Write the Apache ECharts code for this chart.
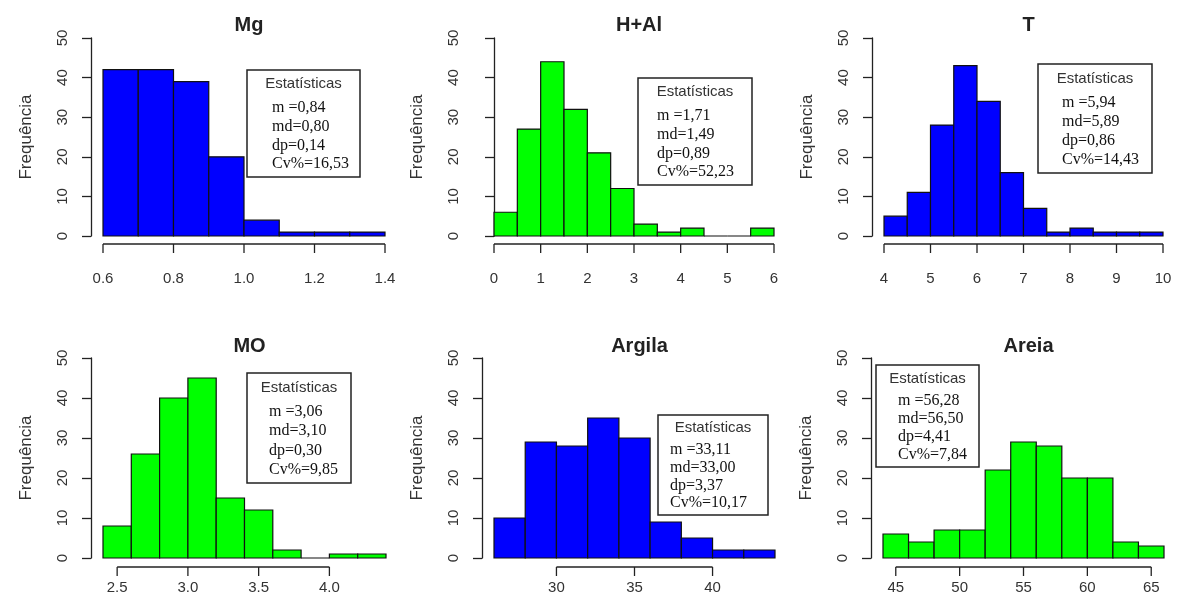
<!DOCTYPE html>
<html><head><meta charset="utf-8">
<script src="https://cdn.jsdelivr.net/npm/echarts@6/dist/echarts.min.js"></script>
<style>html,body{margin:0;padding:0;background:#fff}#c{width:1187px;height:609px}</style>
</head><body><div id="c"></div>
<script>
// ---------------- DATA ----------------
const titles = ['Mg', 'H+Al', 'T', 'MO', 'Argila', 'Areia'];

const mgBreaks  = [0.6, 0.7, 0.8, 0.9, 1.0, 1.1, 1.2, 1.3, 1.4];
const mgCounts  = [42, 42, 39, 20, 4, 1, 1, 1];
const haBreaks  = [0, 0.5, 1, 1.5, 2, 2.5, 3, 3.5, 4, 4.5, 5, 5.5, 6];
const haCounts  = [6, 27, 44, 32, 21, 12, 3, 1, 2, 0, 0, 2];
const tBreaks   = [4, 4.5, 5, 5.5, 6, 6.5, 7, 7.5, 8, 8.5, 9, 9.5, 10];
const tCounts   = [5, 11, 28, 43, 34, 16, 7, 1, 2, 1, 1, 1];
const moBreaks  = [2.4, 2.6, 2.8, 3.0, 3.2, 3.4, 3.6, 3.8, 4.0, 4.2, 4.4];
const moCounts  = [8, 26, 40, 45, 15, 12, 2, 0, 1, 1];
const argBreaks = [26, 28, 30, 32, 34, 36, 38, 40, 42, 44];
const argCounts = [10, 29, 28, 35, 30, 9, 5, 2, 2];
const areBreaks = [44, 46, 48, 50, 52, 54, 56, 58, 60, 62, 64, 66];
const areCounts = [6, 4, 7, 7, 22, 29, 28, 20, 20, 4, 3];

const mgTicks  = [0.6, 0.8, 1.0, 1.2, 1.4];   const mgTickLabels  = ['0.6', '0.8', '1.0', '1.2', '1.4'];
const haTicks  = [0, 1, 2, 3, 4, 5, 6];        const haTickLabels  = ['0', '1', '2', '3', '4', '5', '6'];
const tTicks   = [4, 5, 6, 7, 8, 9, 10];       const tTickLabels   = ['4', '5', '6', '7', '8', '9', '10'];
const moTicks  = [2.5, 3.0, 3.5, 4.0];         const moTickLabels  = ['2.5', '3.0', '3.5', '4.0'];
const argTicks = [30, 35, 40];                 const argTickLabels = ['30', '35', '40'];
const areTicks = [45, 50, 55, 60, 65];         const areTickLabels = ['45', '50', '55', '60', '65'];

const yMin = 0, yMax = 50, yStep = 10;
const yName = 'Frequência';
const statsTitle = 'Estatísticas';
const mgStats  = ['m =0,84', 'md=0,80', 'dp=0,14', 'Cv%=16,53'];
const haStats  = ['m =1,71', 'md=1,49', 'dp=0,89', 'Cv%=52,23'];
const tStats   = ['m =5,94', 'md=5,89', 'dp=0,86', 'Cv%=14,43'];
const moStats  = ['m =3,06', 'md=3,10', 'dp=0,30', 'Cv%=9,85'];
const argStats = ['m =33,11', 'md=33,00', 'dp=3,37', 'Cv%=10,17'];
const areStats = ['m =56,28', 'md=56,50', 'dp=4,41', 'Cv%=7,84'];

const BLUE = '#0000ff', GREEN = '#00ff00';

// ---------------- LAYOUT ----------------
const panels = [
  { breaks: mgBreaks,  counts: mgCounts,  ticks: mgTicks,  labels: mgTickLabels,  stats: mgStats,  color: BLUE },
  { breaks: haBreaks,  counts: haCounts,  ticks: haTicks,  labels: haTickLabels,  stats: haStats,  color: GREEN },
  { breaks: tBreaks,   counts: tCounts,   ticks: tTicks,   labels: tTickLabels,   stats: tStats,   color: BLUE },
  { breaks: moBreaks,  counts: moCounts,  ticks: moTicks,  labels: moTickLabels,  stats: moStats,  color: GREEN },
  { breaks: argBreaks, counts: argCounts, ticks: argTicks, labels: argTickLabels, stats: argStats, color: BLUE },
  { breaks: areBreaks, counts: areCounts, ticks: areTicks, labels: areTickLabels, stats: areStats, color: GREEN }
];
const grids = [
  { left: 103, width: 282, top: 38,  height: 198 },
  { left: 494, width: 280, top: 38,  height: 198 },
  { left: 884, width: 279, top: 38,  height: 198 },
  { left: 103, width: 283, top: 358, height: 200 },
  { left: 494, width: 281, top: 358, height: 200 },
  { left: 883, width: 281, top: 358, height: 200 }
];
const titleTops = [10, 10, 10, 331, 331, 331];
const xOffsets = [8, 8, 8, 9, 9, 9];
const xLabelMargins = [27, 27, 27, 13, 13, 13];
const TICK = 9;
// stats boxes: x, y, w, h, item x-inset
const boxes = [
  [247, 70, 113, 107, 25],
  [638, 78, 114, 107, 19],
  [1038, 64, 114, 109, 24],
  [247, 373, 104, 110, 22],
  [658, 415, 110, 100, 12],
  [876, 365, 103, 102, 22]
];

const AX = '#222';
const option = {
  backgroundColor: '#fff',
  animation: false,
  title: [], grid: [], xAxis: [], yAxis: [], series: [], graphic: []
};

panels.forEach((p, i) => {
  const g = grids[i];
  option.grid.push({ left: g.left, top: g.top, width: g.width, height: g.height, containLabel: false });
  option.title.push({
    text: titles[i], left: g.left + g.width / 2, top: titleTops[i], textAlign: 'center',
    textStyle: { fontFamily: 'Liberation Sans', fontWeight: 'bold', fontSize: 20, color: '#222' }
  });
  const bmin = p.breaks[0], bmax = p.breaks[p.breaks.length - 1];
  option.xAxis.push({
    type: 'value', gridIndex: i, min: bmin, max: bmax, offset: xOffsets[i],
    splitLine: { show: false },
    axisLine: { show: false },
    axisTick: { show: false },
    axisLabel: {
      show: true, customValues: p.ticks, margin: xLabelMargins[i],
      fontFamily: 'Liberation Sans', fontSize: 15, color: '#333',
      formatter: v => { const k = p.ticks.findIndex(t => Math.abs(t - v) < 1e-9); return k >= 0 ? p.labels[k] : ''; }
    }
  });
  option.yAxis.push({
    type: 'value', gridIndex: i, min: yMin, max: yMax, interval: yStep, offset: 12,
    name: yName, nameLocation: 'middle', nameGap: 56, nameRotate: 90,
    nameTextStyle: { fontFamily: 'Liberation Sans', fontSize: 17, color: '#333' },
    splitLine: { show: false },
    axisLine: { show: true, lineStyle: { color: AX, width: 1.3 } },
    axisTick: { show: true, length: TICK, lineStyle: { color: AX, width: 1.3 } },
    axisLabel: { rotate: 90, margin: 21, fontFamily: 'Liberation Sans', fontSize: 15, color: '#333' }
  });
  const data = p.counts.map((c, k) => [p.breaks[k], p.breaks[k + 1], c]);
  option.series.push({
    type: 'custom', xAxisIndex: i, yAxisIndex: i, clip: false,
    encode: { x: [0, 1], y: 2 },
    data: data,
    renderItem: (params, api) => {
      const a = api.coord([api.value(0), api.value(2)]);
      const b = api.coord([api.value(1), 0]);
      return {
        type: 'rect',
        shape: { x: a[0], y: a[1], width: b[0] - a[0], height: b[1] - a[1] },
        style: { fill: p.color, stroke: '#111', lineWidth: 1.2 }
      };
    }
  });
  // x axis line spanning only the tick range (R style) + downward ticks
  const off = xOffsets[i];
  option.series.push({
    type: 'custom', xAxisIndex: i, yAxisIndex: i, clip: false, silent: true,
    encode: { x: [0, 1] },
    data: [[p.ticks[0], p.ticks[p.ticks.length - 1]]],
    renderItem: (params, api) => {
      const a = api.coord([api.value(0), 0]);
      const b = api.coord([api.value(1), 0]);
      return {
        type: 'line',
        shape: { x1: a[0], y1: a[1] + off, x2: b[0], y2: b[1] + off },
        style: { stroke: AX, lineWidth: 1.3 }
      };
    }
  });
  option.series.push({
    type: 'custom', xAxisIndex: i, yAxisIndex: i, clip: false, silent: true,
    encode: { x: 0 },
    data: p.ticks.map(t => [t]),
    renderItem: (params, api) => {
      const a = api.coord([api.value(0), 0]);
      return {
        type: 'line',
        shape: { x1: a[0], y1: a[1] + off, x2: a[0], y2: a[1] + off + TICK },
        style: { stroke: AX, lineWidth: 1.3 }
      };
    }
  });
  // stats box
  const [bx, by, bw, bh, inset] = boxes[i];
  const s = bh / 105;
  option.graphic.push({
    type: 'rect', z: 100, shape: { x: bx, y: by, width: bw, height: bh },
    style: { fill: '#fff', stroke: '#222', lineWidth: 1.5 }
  });
  option.graphic.push({
    type: 'text', z: 101, x: bx + bw / 2, y: by + 14 * s,
    style: { text: statsTitle, font: '15px "Liberation Sans"', fill: '#333',
      textAlign: 'center', textVerticalAlign: 'middle', align: 'center', verticalAlign: 'middle' }
  });
  p.stats.forEach((t, k) => {
    option.graphic.push({
      type: 'text', z: 101, x: bx + inset, y: by + (37 + 18.5 * k) * s,
      style: { text: t, font: '16px "Liberation Serif"', fill: '#111',
        textAlign: 'left', textVerticalAlign: 'middle', align: 'left', verticalAlign: 'middle' }
    });
  });
});

const chart = echarts.init(document.getElementById('c'), null, { renderer: 'canvas' });
chart.setOption(option);
</script>
</body></html>
